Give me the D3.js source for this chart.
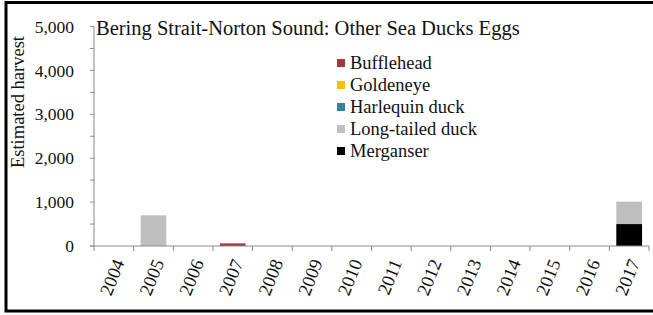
<!DOCTYPE html>
<html><head><meta charset="utf-8">
<script src="https://cdn.jsdelivr.net/npm/d3@7"></script>
<style>body{margin:0;background:#fff}svg{display:block}text{font-family:"Liberation Serif",serif;fill:#111}</style>
</head><body>
<script>
const years = ["2004","2005","2006","2007","2008","2009","2010","2011","2012","2013","2014","2015","2016","2017"];
const species = ["Bufflehead","Goldeneye","Harlequin duck","Long-tailed duck","Merganser"];
const colors = ["#a33a3a","#ffc000","#31849b","#bfbfbf","#000000"];
const bufflehead = [0,0,0,60,0,0,0,0,0,0,0,0,0,0];
const goldeneye = [0,0,0,0,0,0,0,0,0,0,0,0,0,0];
const harlequin = [0,0,0,0,0,0,0,0,0,0,0,0,0,0];
const longtailed = [0,700,0,0,0,0,0,0,0,0,0,0,0,510];
const merganser = [0,0,0,0,0,0,0,0,0,0,0,0,0,500];
const yTicks = [0,1000,2000,3000,4000,5000];
const title = "Bering Strait-Norton Sound: Other Sea Ducks Eggs";

const W=653,H=315;
const FF="Liberation Serif";
const svg=d3.select("body").append("svg").attr("width",W).attr("height",H);
svg.append("rect").attr("x",6).attr("y",2.5).attr("width",W+10).attr("height",308.5)
  .attr("fill","none").attr("stroke","#000").attr("stroke-width",3);

const x=d3.scaleBand().domain(years).range([94,649]).paddingInner(0.35).paddingOuter(0.175);
const y=d3.scaleLinear().domain([0,5000]).range([246,26.5]);

const rows = years.map((yr,i)=>({year:yr,Bufflehead:bufflehead[i],Goldeneye:goldeneye[i],"Harlequin duck":harlequin[i],"Long-tailed duck":longtailed[i],Merganser:merganser[i]}));
const order = ["Merganser","Long-tailed duck","Harlequin duck","Goldeneye","Bufflehead"];
const stack=d3.stack().keys(order)(rows);
svg.append("g").selectAll("g").data(stack).join("g")
  .attr("fill",d=>colors[species.indexOf(d.key)])
  .selectAll("rect").data(d=>d).join("rect")
  .attr("x",d=>x(d.data.year)).attr("width",x.bandwidth())
  .attr("y",d=>y(d[1])).attr("height",d=>y(d[0])-y(d[1]));

// y axis
const ya=svg.append("g").attr("transform","translate(94,0)");
ya.append("line").attr("y1",y(5000)).attr("y2",y(0)).attr("stroke","#888");
const minor=d3.range(0,5001,500);
ya.selectAll("line.t").data(minor).join("line").attr("class","t")
  .attr("x1",-4).attr("x2",0).attr("y1",d=>y(d)).attr("y2",d=>y(d)).attr("stroke","#888");
ya.selectAll("text").data(yTicks).join("text")
  .attr("x",-20).attr("y",d=>y(d)).attr("dy","0.35em").attr("text-anchor","end")
  .attr("font-family",FF).attr("font-size",17.5).text(d=>d3.format(",")(d));

// x axis
const xa=svg.append("g");
xa.append("line").attr("x1",90).attr("x2",649).attr("y1",246).attr("y2",246).attr("stroke","#888");
const bounds=years.map(d=>x(d)-x.step()*x.paddingInner()/2).concat([649]);
xa.selectAll("line.t").data(bounds).join("line").attr("class","t")
  .attr("x1",d=>d).attr("x2",d=>d).attr("y1",246).attr("y2",251).attr("stroke","#888");
xa.selectAll("text").data(years).join("text")
  .attr("transform",d=>`translate(${x(d)+x.bandwidth()/2+5},260) rotate(-68)`)
  .attr("text-anchor","end").attr("dy","0.35em")
  .attr("font-family",FF).attr("font-size",18.5).text(d=>d);

// y label
svg.append("text").attr("transform","translate(24,102) rotate(-90)").attr("text-anchor","middle")
  .attr("font-family",FF).attr("font-size",18.5).text("Estimated harvest");

// title
svg.append("text").attr("x",96).attr("y",35).attr("font-family",FF).attr("font-size",20.5).text(title);

// legend
const lg=svg.append("g").attr("transform","translate(337,63)");
species.forEach((s,i)=>{
  const g=lg.append("g").attr("transform",`translate(0,${i*22})`);
  g.append("rect").attr("x",0).attr("y",-4).attr("width",8).attr("height",8).attr("fill",colors[i]);
  g.append("text").attr("x",13).attr("y",0).attr("dy","0.35em").attr("font-family",FF).attr("font-size",18.5).text(s);
});
</script>
</body></html>
